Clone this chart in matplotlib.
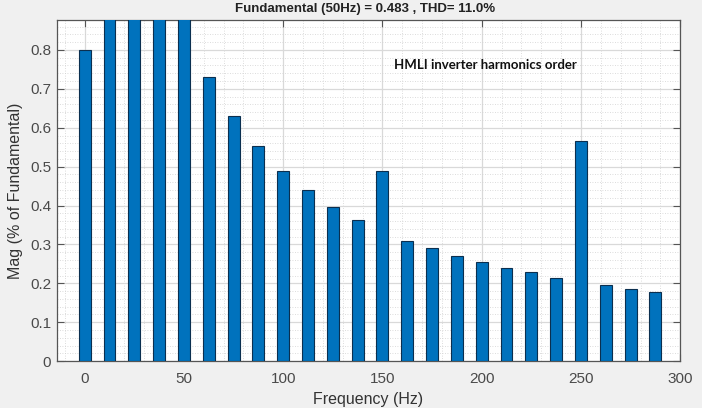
import numpy as np
import matplotlib.pyplot as plt
from matplotlib.ticker import MultipleLocator

plt.rcParams['font.family'] = ['Liberation Sans', 'DejaVu Sans']

# harmonic spectrum, 12.5 Hz spacing (bars 2-5 run off the top of the axes)
freq = [0, 12.5, 25, 37.5, 50, 62.5, 75, 87.5, 100, 112.5, 125, 137.5,
        150, 162.5, 175, 187.5, 200, 212.5, 225, 237.5, 250, 262.5, 275, 287.5]
mag = [0.80, 1.2, 1.5, 1.3, 100.0, 0.73, 0.63, 0.553, 0.49, 0.44, 0.397, 0.363,
       0.49, 0.31, 0.29, 0.27, 0.255, 0.24, 0.228, 0.214, 0.566, 0.195, 0.186, 0.178]
xticks = [0, 50, 100, 150, 200, 250, 300]
yticks = [0, 0.1, 0.2, 0.3, 0.4, 0.5, 0.6, 0.7, 0.8]
ylabels = ['0', '0.1', '0.2', '0.3', '0.4', '0.5', '0.6', '0.7', '0.8']

fig = plt.figure(figsize=(7.02, 4.08), dpi=100, facecolor='#f0f0f0')
ax = fig.add_axes([0.081, 0.115, 0.888, 0.836])
ax.set_facecolor('white')

ax.bar(freq, mag, width=6.0, color='#0072BD', edgecolor='#0b2f4f', linewidth=0.8, zorder=3)

ax.set_xlim(-14, 300)
ax.set_ylim(0, 0.877)
ax.set_xticks(xticks)
ax.set_yticks(yticks)
ax.set_yticklabels(ylabels)
ax.xaxis.set_minor_locator(MultipleLocator(10))
ax.yaxis.set_minor_locator(MultipleLocator(0.02))
ax.grid(which='major', color='#d9d9d9', linewidth=0.9, zorder=0)
ax.grid(which='minor', color='#d0d0d0', linestyle=(0, (1, 2)), linewidth=0.6, zorder=0)
ax.tick_params(which='major', direction='in', length=5, color='#555555', top=True, right=True,
               labelsize=11, labelcolor='#4a4a4a')
ax.tick_params(axis='x', which='major', pad=8)
ax.tick_params(axis='y', which='major', pad=4)
ax.tick_params(which='minor', length=0)
for s in ax.spines.values():
    s.set_color('#555555')
    s.set_linewidth(0.9)

ax.set_xlabel('Frequency (Hz)', fontsize=11.5, color='#333333', labelpad=4)
ax.set_ylabel('Mag (% of Fundamental)', fontsize=11.5, color='#333333', labelpad=5)

fig.text(0.52, 0.978, 'Fundamental (50Hz) = 0.483 , THD= 11.0%', ha='center', va='center',
         fontsize=9.5, fontweight='bold', color='#222222')
ax.text(156, 0.761, 'HMLI inverter harmonics order', fontsize=9.5, va='center',
        fontweight='bold', family=['Lato', 'DejaVu Sans'], color='#111111', zorder=5)

fig.savefig('out.png', dpi=100, facecolor=fig.get_facecolor())
